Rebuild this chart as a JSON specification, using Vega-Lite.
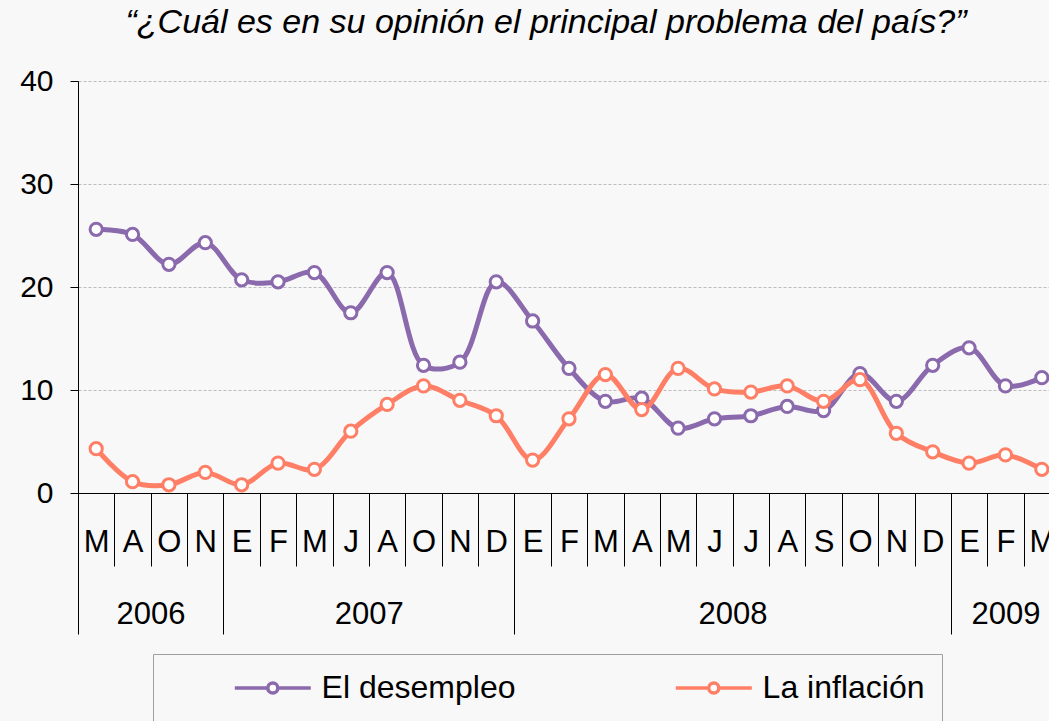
{
  "$schema": "https://vega.github.io/schema/vega-lite/v6.json",
  "background": "#F8F8F8",
  "padding": {"left": 0, "top": 6, "right": 0, "bottom": 0},
  "width": 982,
  "height": 412,
  "config": {
    "view": {"stroke": null},
    "font": "Liberation Sans"
  },
  "title": {
    "text": "“¿Cuál es en su opinión el principal problema del país?”",
    "font": "Liberation Sans",
    "fontSize": 34,
    "fontStyle": "italic",
    "fontWeight": "normal",
    "color": "#000000",
    "anchor": "middle",
    "dx": -23,
    "offset": 26
  },
  "data": {
    "values": [
      {"periodo": "2006-1-M", "serie": "El desempleo", "valor": 25.6},
      {"periodo": "2006-2-A", "serie": "El desempleo", "valor": 25.1},
      {"periodo": "2006-3-O", "serie": "El desempleo", "valor": 22.2},
      {"periodo": "2006-4-N", "serie": "El desempleo", "valor": 24.3},
      {"periodo": "2007-1-E", "serie": "El desempleo", "valor": 20.7},
      {"periodo": "2007-2-F", "serie": "El desempleo", "valor": 20.5},
      {"periodo": "2007-3-M", "serie": "El desempleo", "valor": 21.4},
      {"periodo": "2007-4-J", "serie": "El desempleo", "valor": 17.5},
      {"periodo": "2007-5-A", "serie": "El desempleo", "valor": 21.4},
      {"periodo": "2007-6-O", "serie": "El desempleo", "valor": 12.4},
      {"periodo": "2007-7-N", "serie": "El desempleo", "valor": 12.7},
      {"periodo": "2007-8-D", "serie": "El desempleo", "valor": 20.5},
      {"periodo": "2008-01-E", "serie": "El desempleo", "valor": 16.7},
      {"periodo": "2008-02-F", "serie": "El desempleo", "valor": 12.1},
      {"periodo": "2008-03-M", "serie": "El desempleo", "valor": 8.9},
      {"periodo": "2008-04-A", "serie": "El desempleo", "valor": 9.2},
      {"periodo": "2008-05-M", "serie": "El desempleo", "valor": 6.3},
      {"periodo": "2008-06-J", "serie": "El desempleo", "valor": 7.2},
      {"periodo": "2008-07-J", "serie": "El desempleo", "valor": 7.5},
      {"periodo": "2008-08-A", "serie": "El desempleo", "valor": 8.4},
      {"periodo": "2008-09-S", "serie": "El desempleo", "valor": 8.0},
      {"periodo": "2008-10-O", "serie": "El desempleo", "valor": 11.6},
      {"periodo": "2008-11-N", "serie": "El desempleo", "valor": 8.9},
      {"periodo": "2008-12-D", "serie": "El desempleo", "valor": 12.4},
      {"periodo": "2009-1-E", "serie": "El desempleo", "valor": 14.1},
      {"periodo": "2009-2-F", "serie": "El desempleo", "valor": 10.4},
      {"periodo": "2009-3-M", "serie": "El desempleo", "valor": 11.2},
      {"periodo": "2006-1-M", "serie": "La inflación", "valor": 4.3},
      {"periodo": "2006-2-A", "serie": "La inflación", "valor": 1.1},
      {"periodo": "2006-3-O", "serie": "La inflación", "valor": 0.8},
      {"periodo": "2006-4-N", "serie": "La inflación", "valor": 2.0},
      {"periodo": "2007-1-E", "serie": "La inflación", "valor": 0.8},
      {"periodo": "2007-2-F", "serie": "La inflación", "valor": 2.9},
      {"periodo": "2007-3-M", "serie": "La inflación", "valor": 2.3},
      {"periodo": "2007-4-J", "serie": "La inflación", "valor": 6.0},
      {"periodo": "2007-5-A", "serie": "La inflación", "valor": 8.6},
      {"periodo": "2007-6-O", "serie": "La inflación", "valor": 10.4},
      {"periodo": "2007-7-N", "serie": "La inflación", "valor": 9.0},
      {"periodo": "2007-8-D", "serie": "La inflación", "valor": 7.5},
      {"periodo": "2008-01-E", "serie": "La inflación", "valor": 3.2},
      {"periodo": "2008-02-F", "serie": "La inflación", "valor": 7.2},
      {"periodo": "2008-03-M", "serie": "La inflación", "valor": 11.5},
      {"periodo": "2008-04-A", "serie": "La inflación", "valor": 8.1},
      {"periodo": "2008-05-M", "serie": "La inflación", "valor": 12.1},
      {"periodo": "2008-06-J", "serie": "La inflación", "valor": 10.1},
      {"periodo": "2008-07-J", "serie": "La inflación", "valor": 9.8},
      {"periodo": "2008-08-A", "serie": "La inflación", "valor": 10.4},
      {"periodo": "2008-09-S", "serie": "La inflación", "valor": 8.9},
      {"periodo": "2008-10-O", "serie": "La inflación", "valor": 11.0},
      {"periodo": "2008-11-N", "serie": "La inflación", "valor": 5.8},
      {"periodo": "2008-12-D", "serie": "La inflación", "valor": 4.0},
      {"periodo": "2009-1-E", "serie": "La inflación", "valor": 2.9},
      {"periodo": "2009-2-F", "serie": "La inflación", "valor": 3.7},
      {"periodo": "2009-3-M", "serie": "La inflación", "valor": 2.3}
    ]
  },
  "encoding": {
    "y": {
      "field": "valor",
      "type": "quantitative",
      "title": null,
      "scale": {"domain": [0, 40], "nice": false, "zero": true},
      "axis": {
        "values": [0, 10, 20, 30, 40],
        "grid": true,
        "gridColor": "#BDBDBD",
        "gridDash": [3, 2],
        "gridWidth": 1,
        "domainColor": "#000000",
        "domainWidth": 1,
        "tickColor": "#000000",
        "tickSize": 8,
        "labelFont": "Liberation Sans",
        "labelFontSize": 30,
        "labelColor": "#000000",
        "labelPadding": 17,
        "minExtent": 78,
        "maxExtent": 78
      }
    },
    "color": {
      "field": "serie",
      "type": "nominal",
      "title": null,
      "scale": {"domain": ["El desempleo", "La inflación"], "range": ["#8B69AD", "#FF7F66"]},
      "legend": {
        "orient": "none",
        "legendX": 75,
        "legendY": 573,
        "direction": "horizontal",
        "padding": 17,
        "strokeColor": "#A0A0A0",
        "fillColor": "#F8F8F8",
        "gridAlign": "all",
        "columnPadding": 95,
        "symbolOffset": 85.8,
        "symbolType": "M-2.5,0L-0.33,0M0.33,0L2.5,0M-0.33,0A0.33,0.33 0 1 1 0.33,0A0.33,0.33 0 1 1 -0.33,0Z",
        "symbolSize": 924,
        "symbolStrokeWidth": 3.5,
        "labelFont": "Liberation Sans",
        "labelFontSize": 32,
        "labelColor": "#000000",
        "labelOffset": 31.8,
        "labelLimit": 500,
        "encode": {"symbols": {"update": {"fill": {"value": "white"}, "strokeWidth": {"value": 3.5}}}}
      }
    }
  },
  "layer": [
    {
      "mark": {"type": "line", "interpolate": "catmull-rom", "strokeWidth": 5},
      "encoding": {
        "x": {
          "field": "periodo",
          "type": "nominal",
          "sort": null,
          "title": null,
          "scale": {"type": "band", "paddingInner": 0, "paddingOuter": 0},
          "axis": {
            "orient": "bottom",
            "tickBand": "extent",
            "tickSize": 73,
            "tickColor": "#000000",
            "tickWidth": 1,
            "domainColor": "#000000",
            "domainWidth": 1,
            "labelAngle": 0,
            "labelBaseline": "middle",
            "labelPadding": -24,
            "labelFont": "Liberation Sans",
            "labelFontSize": 31,
            "labelColor": "#000000",
            "labelOverlap": false,
            "labelExpr": "split(datum.value, '-')[2]"
          }
        }
      }
    },
    {
      "mark": {"type": "point", "filled": false, "fill": "white", "size": 150, "strokeWidth": 3, "opacity": 1},
      "encoding": {
        "x": {
          "field": "periodo",
          "type": "nominal",
          "sort": null,
          "title": null,
          "scale": {"type": "band", "paddingInner": 0, "paddingOuter": 0},
          "axis": {
            "orient": "bottom",
            "domain": false,
            "tickBand": "extent",
            "tickSize": 141,
            "tickWidth": 1,
            "tickColor": {"condition": {"test": "!isString(datum.value) || indexof(['2006-4-N','2007-8-D','2008-12-D'], datum.value) >= 0", "value": "#000000"}, "value": "transparent"},
            "labelAngle": 0,
            "labelBaseline": "middle",
            "labelPadding": -20,
            "labelFont": "Liberation Sans",
            "labelFontSize": 31,
            "labelColor": "#000000",
            "labelOverlap": false,
            "labelOffset": {"condition": {"test": "datum.value == '2009-2-F'", "value": 0}, "value": 18},
            "labelExpr": "datum.value == '2006-2-A' ? '2006' : datum.value == '2007-4-J' ? '2007' : datum.value == '2008-06-J' ? '2008' : datum.value == '2009-2-F' ? '2009' : ''"
          }
        }
      }
    }
  ],
  "resolve": {"axis": {"x": "independent"}}
}
